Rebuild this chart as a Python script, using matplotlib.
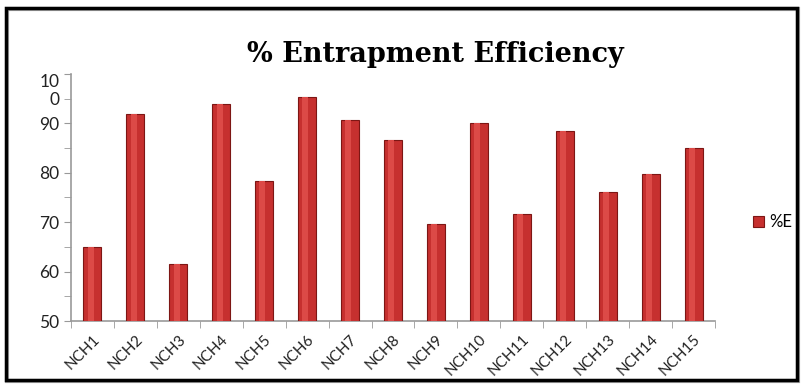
import numpy as np
import matplotlib
matplotlib.use("Agg")
from matplotlib import pyplot as plt
from matplotlib.patches import Rectangle

# data
categories = ["NCH1", "NCH2", "NCH3", "NCH4", "NCH5", "NCH6", "NCH7", "NCH8",
              "NCH9", "NCH10", "NCH11", "NCH12", "NCH13", "NCH14", "NCH15"]
percent_e = [65.0, 92.0, 61.6, 94.0, 78.4, 95.3, 90.7, 86.6,
             69.7, 90.0, 71.7, 88.4, 76.2, 79.7, 85.0]
ytick_values = [50, 60, 70, 80, 90, 100]
ytick_labels = ["50", "60", "70", "80", "90", "10\n0"]

plt.rcParams["font.family"] = ["Lato", "DejaVu Sans"]

fig = plt.figure(figsize=(8.05, 3.85), dpi=100)
ax = fig.add_axes([71 / 805, 64 / 385, 644 / 805, 247 / 385])

x = np.arange(len(categories))
bars = ax.bar(x, percent_e, width=0.42, bottom=0, color="#c6302f",
              edgecolor="#7d1614", linewidth=0.8, label="%E", zorder=3)
# lighter strip to suggest the cylinder shading
ax.bar(x - 0.04, percent_e, width=0.14, color="#dc4a47", linewidth=0, zorder=4)

ax.set_xlim(-0.5, len(categories) - 0.5)
ax.set_ylim(50, 100)

# y axis: ticks every 5, labels every 10
ax.set_yticks(np.arange(50, 101, 5), minor=True)
ax.set_yticks(ytick_values)
ax.set_yticklabels(ytick_labels, fontsize=12.5, color="#222222", linespacing=1.15)
ax.tick_params(axis="y", which="both", length=5, color="#999999", direction="out")
for lab in ax.get_yticklabels():
    if lab.get_text() == "10\n0":
        lab.set_verticalalignment("top")

# x axis: category labels at centres, tick marks between categories
ax.set_xticks(x)
ax.set_xticklabels(categories, rotation=45, ha="right", rotation_mode="anchor",
                   fontsize=11, color="#222222")
ax.set_xticks(np.arange(-0.5, len(categories), 1), minor=True)
ax.tick_params(axis="x", which="major", length=0, pad=8)
ax.tick_params(axis="x", which="minor", length=5, color="#999999", direction="out")

for side in ["top", "right"]:
    ax.spines[side].set_visible(False)
for side in ["left", "bottom"]:
    ax.spines[side].set_color("#999999")
    ax.spines[side].set_linewidth(1.2)

fig.text(435 / 805, 1 - 55 / 385, "% Entrapment Efficiency", ha="center",
         va="center", fontsize=19.5, fontweight="bold", family="DejaVu Serif")

leg = ax.legend(handles=[bars], loc="center left", bbox_to_anchor=(1.035, 0.4),
                frameon=False, fontsize=12, handlelength=0.7, handleheight=0.7,
                handletextpad=0.3)

# chart border
fig.patches.append(Rectangle((7 / 805, 4 / 385), 791 / 805, 372 / 385,
                             transform=fig.transFigure, fill=False,
                             edgecolor="#aaaaaa", linewidth=3, zorder=0))
fig.patches.append(Rectangle((6 / 805, 5 / 385), 791 / 805, 372 / 385,
                             transform=fig.transFigure, fill=False,
                             edgecolor="black", linewidth=2.5, zorder=1))

fig.savefig("out.png", dpi=100)
